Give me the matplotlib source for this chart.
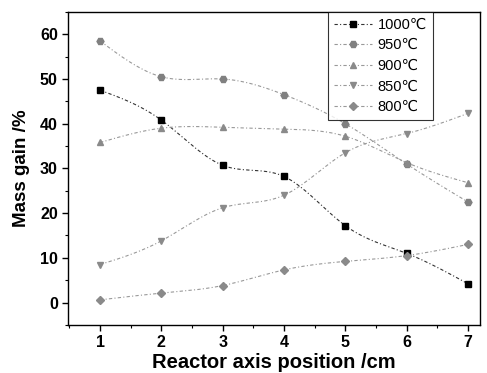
import numpy as np
import matplotlib
matplotlib.use("Agg")
import matplotlib.pyplot as plt
from matplotlib.ticker import MultipleLocator

positions = [1, 2, 3, 4, 5, 6, 7]
labels = ["1000\u2103", "950\u2103", "900\u2103", "850\u2103", "800\u2103"]
s1000 = [47.5, 40.8, 30.7, 28.2, 17.2, 11.0, 4.2]
s950 = [58.5, 50.5, 50.0, 46.5, 40.0, 31.0, 22.5]
s900 = [35.8, 39.0, 39.2, 38.8, 37.2, 31.3, 26.8]
s850 = [8.5, 13.8, 21.2, 24.0, 33.5, 37.8, 42.3]
s800 = [0.6, 2.1, 3.8, 7.3, 9.2, 10.5, 13.0]

def natural_spline(x, y, n=200):
    x = np.asarray(x, float); y = np.asarray(y, float)
    k = len(x); h = np.diff(x)
    A = np.zeros((k, k)); b = np.zeros(k)
    A[0, 0] = A[-1, -1] = 1
    for i in range(1, k - 1):
        A[i, i - 1] = h[i - 1]; A[i, i] = 2 * (h[i - 1] + h[i]); A[i, i + 1] = h[i]
        b[i] = 3 * ((y[i + 1] - y[i]) / h[i] - (y[i] - y[i - 1]) / h[i - 1])
    c = np.linalg.solve(A, b)
    xs = np.linspace(x[0], x[-1], n); ys = np.empty_like(xs)
    for j, xv in enumerate(xs):
        i = min(np.searchsorted(x, xv, side='right') - 1, k - 2)
        d = xv - x[i]
        bi = (y[i + 1] - y[i]) / h[i] - h[i] * (2 * c[i] + c[i + 1]) / 3
        di = (c[i + 1] - c[i]) / (3 * h[i])
        ys[j] = y[i] + bi * d + c[i] * d ** 2 + di * d ** 3
    return xs, ys

plt.rcParams['font.family'] = ['Liberation Sans', 'DejaVu Sans']
fig = plt.figure(figsize=(4.87, 3.73), dpi=100)
ax = fig.add_axes([0.14, 0.129, 0.846, 0.839])

series = [s1000, s950, s900, s850, s800]
markers = ['s', 'H', '^', 'v', 'D']
mcolors = ['black', '#808080', '#8a8a8a', '#8a8a8a', '#8a8a8a']
lcolors = ['#333333', '#999999', '#999999', '#999999', '#999999']
handles = []
for s, m, mc, lc, lab in zip(series, markers, mcolors, lcolors, labels):
    xs, ys = natural_spline(positions, s)
    ax.plot(xs, ys, linestyle=(0, (3, 2, 1, 2)), color=lc, linewidth=0.8)
    ax.plot(positions, s, linestyle='none', marker=m, color=mc, markersize=5 if m != 'D' else 4.5)
    h, = ax.plot([], [], linestyle=(0, (3, 2, 1, 2)), color=lc, linewidth=0.8,
                 marker=m, markerfacecolor=mc, markeredgecolor=mc, markersize=5 if m != 'D' else 4.5)
    handles.append(h)

ax.set_xlim(0.48, 7.2)
ax.set_ylim(-5, 65)
ax.xaxis.set_major_locator(MultipleLocator(1))
ax.xaxis.set_minor_locator(MultipleLocator(0.5))
ax.yaxis.set_major_locator(MultipleLocator(10))
ax.yaxis.set_minor_locator(MultipleLocator(5))
ax.tick_params(which='both', direction='out', top=False, right=False)
ax.tick_params(which='major', length=4, width=1, labelsize=11.5)
ax.tick_params(which='minor', length=2, width=0.8)
for lbl in ax.get_xticklabels() + ax.get_yticklabels():
    lbl.set_fontweight('bold')
for sp in ax.spines.values():
    sp.set_linewidth(1.0)
ax.set_xlabel('Reactor axis position /cm', fontsize=14.5, fontweight='bold', labelpad=2)
ax.set_ylabel('Mass gain /%', fontsize=13.5, fontweight='bold', labelpad=7)

leg = ax.legend(handles, labels, loc='upper right', bbox_to_anchor=(0.885, 1.0),
                borderaxespad=0, fontsize=10.5, frameon=True, fancybox=False,
                edgecolor='black', handlelength=2.6, labelspacing=0.45, handletextpad=0.4,
                borderpad=0.4)
leg.get_frame().set_linewidth(0.8)

fig.savefig('out.png', dpi=100)
